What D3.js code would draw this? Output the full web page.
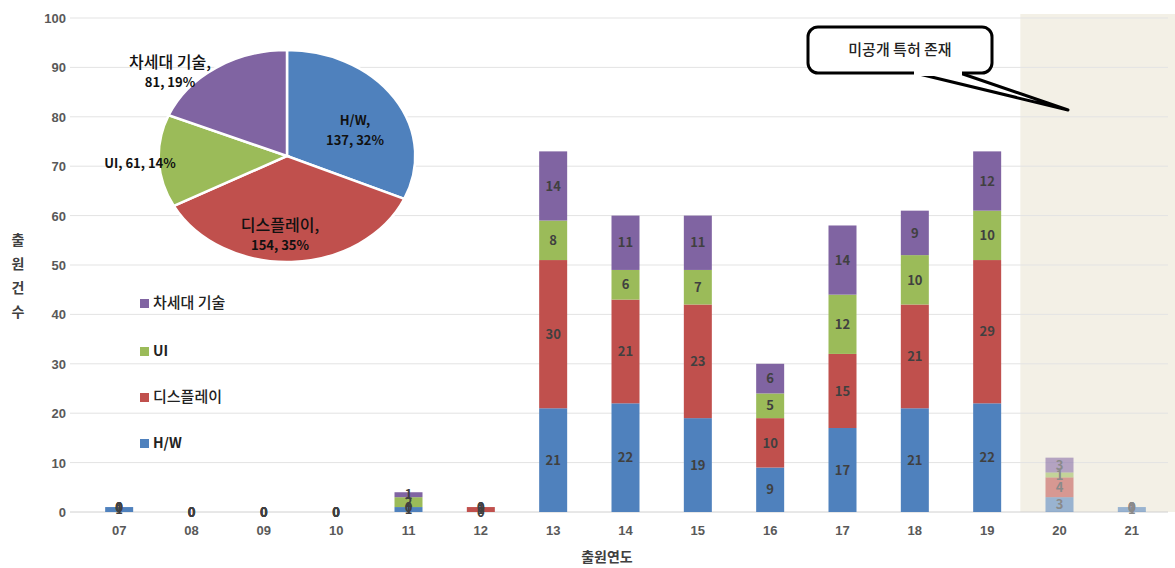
<!DOCTYPE html>
<html><head><meta charset="utf-8">
<script src="https://cdn.jsdelivr.net/npm/d3@7"></script>
<style>body{margin:0;background:#fff}svg{display:block;font-family:"Noto Sans CJK KR","Noto Sans",sans-serif}</style>
</head><body><svg id="c" width="1175" height="568"></svg>
<script>
const years = ["07","08","09","10","11","12","13","14","15","16","17","18","19","20","21"];
const seriesNames = ["H/W","디스플레이","UI","차세대 기술"];
const hw      = [1,0,0,0,1,0,21,22,19,9,17,21,22,3,1];
const display = [0,0,0,0,0,1,30,21,23,10,15,21,29,4,0];
const ui      = [0,0,0,0,2,0,8,6,7,5,12,10,10,1,0];
const nextgen = [0,0,0,0,1,0,14,11,11,6,14,9,12,3,0];
const colors = ["#4f81bd","#c0504d","#9bbb59","#8064a2"];
const unpublished = ["20","21"];
const yTicks = [0,10,20,30,40,50,60,70,80,90,100];
const pieValues = [137,154,61,81];
const pieLabels = [["H/W,","137, 32%"],["디스플레이,","154, 35%"],["UI, 61, 14%"],["차세대 기술,","81, 19%"]];

const svg = d3.select("#c");
const m = {l:83,r:1168,t:18,b:512};
const x = d3.scaleBand().domain(years).range([m.l,m.r]).paddingInner(0).paddingOuter(0);
const y = d3.scaleLinear().domain([0,100]).range([m.b,m.t]);

// shaded region
svg.append("rect").attr("x",x("20")-3).attr("y",m.t-4).attr("width",1175-(x("20")-3)).attr("height",m.b-m.t+4).attr("fill","#f3f0e6");

// grid
svg.append("g").selectAll("line").data(yTicks).join("line")
  .attr("x1",70).attr("x2",m.r).attr("y1",d=>y(d)).attr("y2",d=>y(d))
  .attr("stroke",d=>d===0?"#d0d0d0":"#e3e3e3").attr("stroke-width",1);

// y ticks
const yAxis = d3.axisLeft(y).tickValues(yTicks).tickSize(0).tickPadding(0);
const ga = svg.append("g").attr("transform","translate(66,0)").call(yAxis);
ga.select(".domain").remove();
ga.selectAll("text").attr("font-size",13).attr("font-weight","bold").attr("fill","#595959").attr("dy","0.35em");

// x ticks
const xAxis = d3.axisBottom(x).tickSize(0).tickPadding(0);
const gx = svg.append("g").attr("transform",`translate(0,${m.b+14})`).call(xAxis);
gx.select(".domain").remove();
gx.selectAll("text").attr("font-size",13).attr("font-weight","bold").attr("fill","#595959");

// stacked data
const rows = years.map((yr,i)=>({year:yr,"H/W":hw[i],"디스플레이":display[i],"UI":ui[i],"차세대 기술":nextgen[i]}));
const stack = d3.stack().keys(seriesNames)(rows);
const bw = 28;
stack.forEach((s,si)=>{
  const g = svg.append("g");
  g.selectAll("rect").data(s).join("rect")
    .attr("x",d=>x(d.data.year)+x.bandwidth()/2-bw/2).attr("width",bw)
    .attr("y",d=>y(d[1])).attr("height",d=>y(d[0])-y(d[1]))
    .attr("fill",colors[si]).attr("opacity",d=>unpublished.includes(d.data.year)?0.55:1);
});
stack.forEach((s,si)=>{
  svg.append("g").selectAll("text").data(s).join("text")
    .attr("x",d=>x(d.data.year)+x.bandwidth()/2)
    .attr("y",d=>(y(d[0])+y(d[1]))/2).attr("dy","0.36em")
    .attr("text-anchor","middle").attr("font-size",13).attr("font-weight","bold")
    .attr("fill",d=>unpublished.includes(d.data.year)?"#8a8a8a":"#404040")
    .text(d=>d[1]-d[0]);
});

// axis titles
svg.append("text").attr("x",607).attr("y",562).attr("text-anchor","middle").attr("font-size",14).attr("font-weight","bold").attr("fill","#404040").text("출원연도");
["출","원","건","수"].forEach((c,i)=>svg.append("text").attr("x",18).attr("y",240+i*24).attr("dy","0.35em").attr("text-anchor","middle").attr("font-size",14).attr("font-weight","bold").attr("fill","#404040").text(c));

// legend
const legOrder = [3,2,1,0];
const legY = [303,351,397,443];
legOrder.forEach((si,k)=>{
  svg.append("rect").attr("x",140).attr("y",legY[k]-4).attr("width",9).attr("height",9).attr("fill",colors[si]);
  svg.append("text").attr("x",153).attr("y",legY[k]).attr("dy","0.35em").attr("font-size",(si===1||si===3)?15:14)
    .attr("font-weight",(si===0||si===2)?"bold":"500").attr("fill","#222").text(seriesNames[si]);
});

// pie
const cx=287, cy=156, r=106, sx=1.21;
const pie = d3.pie().sort(null).value(d=>d)(pieValues);
const arc = d3.arc().innerRadius(0).outerRadius(r);
const pg = svg.append("g").attr("transform",`translate(${cx},${cy}) scale(${sx},1)`);
pg.selectAll("path").data(pie).join("path").attr("d",arc).attr("fill",(d,i)=>colors[i])
  .attr("stroke","#fff").attr("stroke-width",2.5).attr("vector-effect","non-scaling-stroke");
const labelPos = [[355,120],[280,225],[140,163],[170,62]];
pieLabels.forEach((lines,i)=>{
  const t = svg.append("text").attr("text-anchor","middle").attr("fill","#111");
  lines.forEach((ln,j)=>t.append("tspan").attr("x",labelPos[i][0]).attr("y",labelPos[i][1]+j*20)
    .attr("dy","0.35em")
    .attr("font-weight",/[가-힣]/.test(ln)?"500":"bold")
    .attr("font-size",(/[가-힣]/.test(ln)?16:13)).text(ln));
});

// callout
const co = svg.append("g");
co.append("path").attr("d","M 915 73 L 1068 110 L 960 73").attr("fill","#fff").attr("stroke","#000").attr("stroke-width",3).attr("stroke-linejoin","round");
co.append("rect").attr("x",808).attr("y",27).attr("width",184).attr("height",46).attr("rx",10).attr("fill","#fff").attr("stroke","#000").attr("stroke-width",3);
co.append("rect").attr("x",914).attr("y",70).attr("width",48).attr("height",6).attr("fill","#fff");
co.append("text").attr("x",900).attr("y",50).attr("dy","0.35em").attr("text-anchor","middle").attr("font-size",15).attr("font-weight","500").attr("fill","#222").text("미공개 특허 존재");
</script></body></html>
